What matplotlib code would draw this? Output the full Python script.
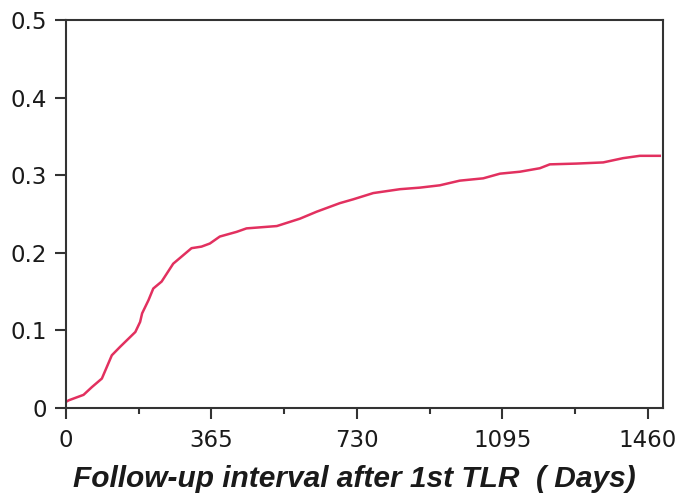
import numpy as np
import matplotlib.pyplot as plt
from matplotlib.ticker import MultipleLocator

# cumulative incidence after first TLR, read at selected follow-up days
days = [0, 7, 44, 65, 90, 115, 136, 174, 186, 191, 207, 219, 240, 269, 315,
        340, 361, 386, 428, 453, 529, 587, 629, 687, 721, 771, 838, 888, 938,
        988, 1047, 1089, 1139, 1189, 1214, 1281, 1348, 1398, 1440, 1490]
incidence = [0.008, 0.010, 0.017, 0.027, 0.038, 0.068, 0.079, 0.098, 0.111,
             0.122, 0.139, 0.154, 0.163, 0.186, 0.206, 0.208, 0.212, 0.221,
             0.227, 0.2315, 0.2345, 0.244, 0.253, 0.264, 0.269, 0.277, 0.282,
             0.284, 0.287, 0.293, 0.296, 0.302, 0.3045, 0.309, 0.314, 0.315,
             0.3165, 0.322, 0.325, 0.325]

x_ticks = [0, 365, 730, 1095, 1460]
y_ticks = [0, 0.1, 0.2, 0.3, 0.4, 0.5]
y_labels = ["0", "0.1", "0.2", "0.3", "0.4", "0.5"]

fig = plt.figure(figsize=(6.79, 4.94), dpi=100)
ax = fig.add_axes([0.0972, 0.174, 0.8792, 0.7855])

ax.plot(days, incidence, color="#e2305f", lw=1.8, solid_joinstyle="round")

ax.set_xlim(0, 1498)
ax.set_ylim(0, 0.5)
ax.set_xticks(x_ticks)
ax.xaxis.set_minor_locator(MultipleLocator(182.5))
ax.set_yticks(y_ticks)
ax.set_yticklabels(y_labels)

for s in ax.spines.values():
    s.set_linewidth(1.5)
    s.set_color("#333333")

ax.tick_params(axis="both", which="major", direction="out", length=8,
               width=1.5, color="#333333", labelsize=16.5, labelcolor="#1a1a1a")
ax.tick_params(axis="x", which="minor", direction="out", length=4,
               width=1.5, color="#333333")
ax.tick_params(axis="y", pad=6)
ax.tick_params(axis="x", pad=7)

ax.set_xlabel("Follow-up interval after 1st TLR  ( Days)",
              family="Liberation Sans", fontsize=21.5, fontweight="bold",
              style="italic", color="#1a1a1a")
ax.xaxis.set_label_coords(0.483, -0.148)

fig.savefig("out.png", dpi=100)
